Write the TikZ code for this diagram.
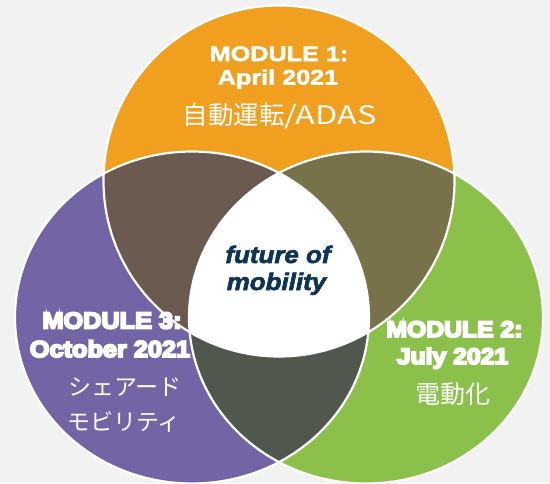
\documentclass[tikz,border=0pt]{standalone}
\usepackage{fontspec}
\newfontfamily\labA[UprightFont=* Bold,FakeStretch=1.2]{Liberation Sans}
\newfontfamily\labB[UprightFont=* Bold,FakeStretch=1.1]{Liberation Sans}
\newfontfamily\labI[UprightFont=* Bold Italic,FakeStretch=1.08]{Liberation Sans}
\newfontfamily\jp{Noto Sans CJK JP}
\newfontfamily\jpw[FakeStretch=1.27]{Noto Sans CJK JP}
\newcommand\heavytxt[2]{\special{pdf:literal direct #1 w 2 Tr}#2\special{pdf:literal direct 0 Tr}}
\definecolor{bgc}{HTML}{F2F2F2}
\definecolor{orc}{HTML}{F09F1E}
\definecolor{puc}{HTML}{7364A6}
\definecolor{grc}{HTML}{8BC14A}
\definecolor{brc}{HTML}{6A5A4F}
\definecolor{olc}{HTML}{77724A}
\definecolor{dkc}{HTML}{50574C}
\definecolor{nvc}{HTML}{0D3454}
\tikzset{
  lbl/.style={text=white, inner sep=0pt, anchor=base},
  ring/.style={draw=white, line width=2.2pt},
  topc/.style={insert path={circle[radius=175.5pt]}},
  sidec/.style={insert path={ellipse[x radius=177pt, y radius=166pt]}},
}
\begin{document}
\begin{tikzpicture}[x=1pt,y=-1pt]
\useasboundingbox (0,0) rectangle (550,483);
\fill[bgc] (0,0) rectangle (550,483);
\coordinate (T) at (279,181);
\coordinate (L) at (192,317.5);
\coordinate (R) at (366,317.5);
\fill[orc] (T) [topc];
\fill[puc] (L) [sidec];
\fill[grc] (R) [sidec];
\begin{scope}
  \clip (L) [sidec];
  \fill[dkc] (R) [sidec];
\end{scope}
\begin{scope}
  \clip (T) [topc];
  \fill[brc] (L) [sidec];
  \fill[olc] (R) [sidec];
  \clip (L) [sidec];
  \fill[white] (R) [sidec];
\end{scope}
\draw[ring] (T) [topc];
\draw[ring] (L) [sidec];
\draw[ring] (R) [sidec];
% module 1
\node[lbl, font=\labA\fontsize{21}{21}\selectfont] (m1a) at (279,61) {\heavytxt{0.5}{MODULE 1:}};
\node[lbl, font=\labA\fontsize{21}{21}\selectfont] (m1b) at (278,84.5) {\heavytxt{0.5}{April 2021}};
\node[lbl, font=\jp\fontsize{25.5}{25.5}\selectfont] (m1c) at (279.5,124) {自動運転{\jpw/ADAS}};
% module 3
\node[lbl, font=\labB\fontsize{23}{23}\selectfont] (m3a) at (112,328.5) {\heavytxt{1.9}{MODULE 3:}};
\node[lbl, font=\labB\fontsize{23}{23}\selectfont] (m3b) at (110,357) {\heavytxt{1.9}{October 2021}};
\node[lbl, font=\jp\fontsize{23}{23}\selectfont] (m3c) at (125,395) {シェアード};
\node[lbl, font=\jp\fontsize{23}{23}\selectfont] (m3d) at (124,430) {モビリティ};
% module 2
\node[lbl, font=\labB\fontsize{22.5}{22.5}\selectfont] (m2a) at (454.5,337) {\heavytxt{1.9}{MODULE 2:}};
\node[lbl, font=\labB\fontsize{22.5}{22.5}\selectfont] (m2b) at (452.5,364) {\heavytxt{1.9}{July 2021}};
\node[lbl, font=\jp\fontsize{25}{25}\selectfont] (m2c) at (453,403) {電動化};
% centre
\node[lbl, text=nvc, font=\labI\fontsize{24}{24}\selectfont] (fa) at (278,263) {\heavytxt{0.6}{future of}};
\node[lbl, text=nvc, font=\labI\fontsize{24}{24}\selectfont] (fb) at (276.5,290) {\heavytxt{0.6}{mobility}};
\end{tikzpicture}
\end{document}
